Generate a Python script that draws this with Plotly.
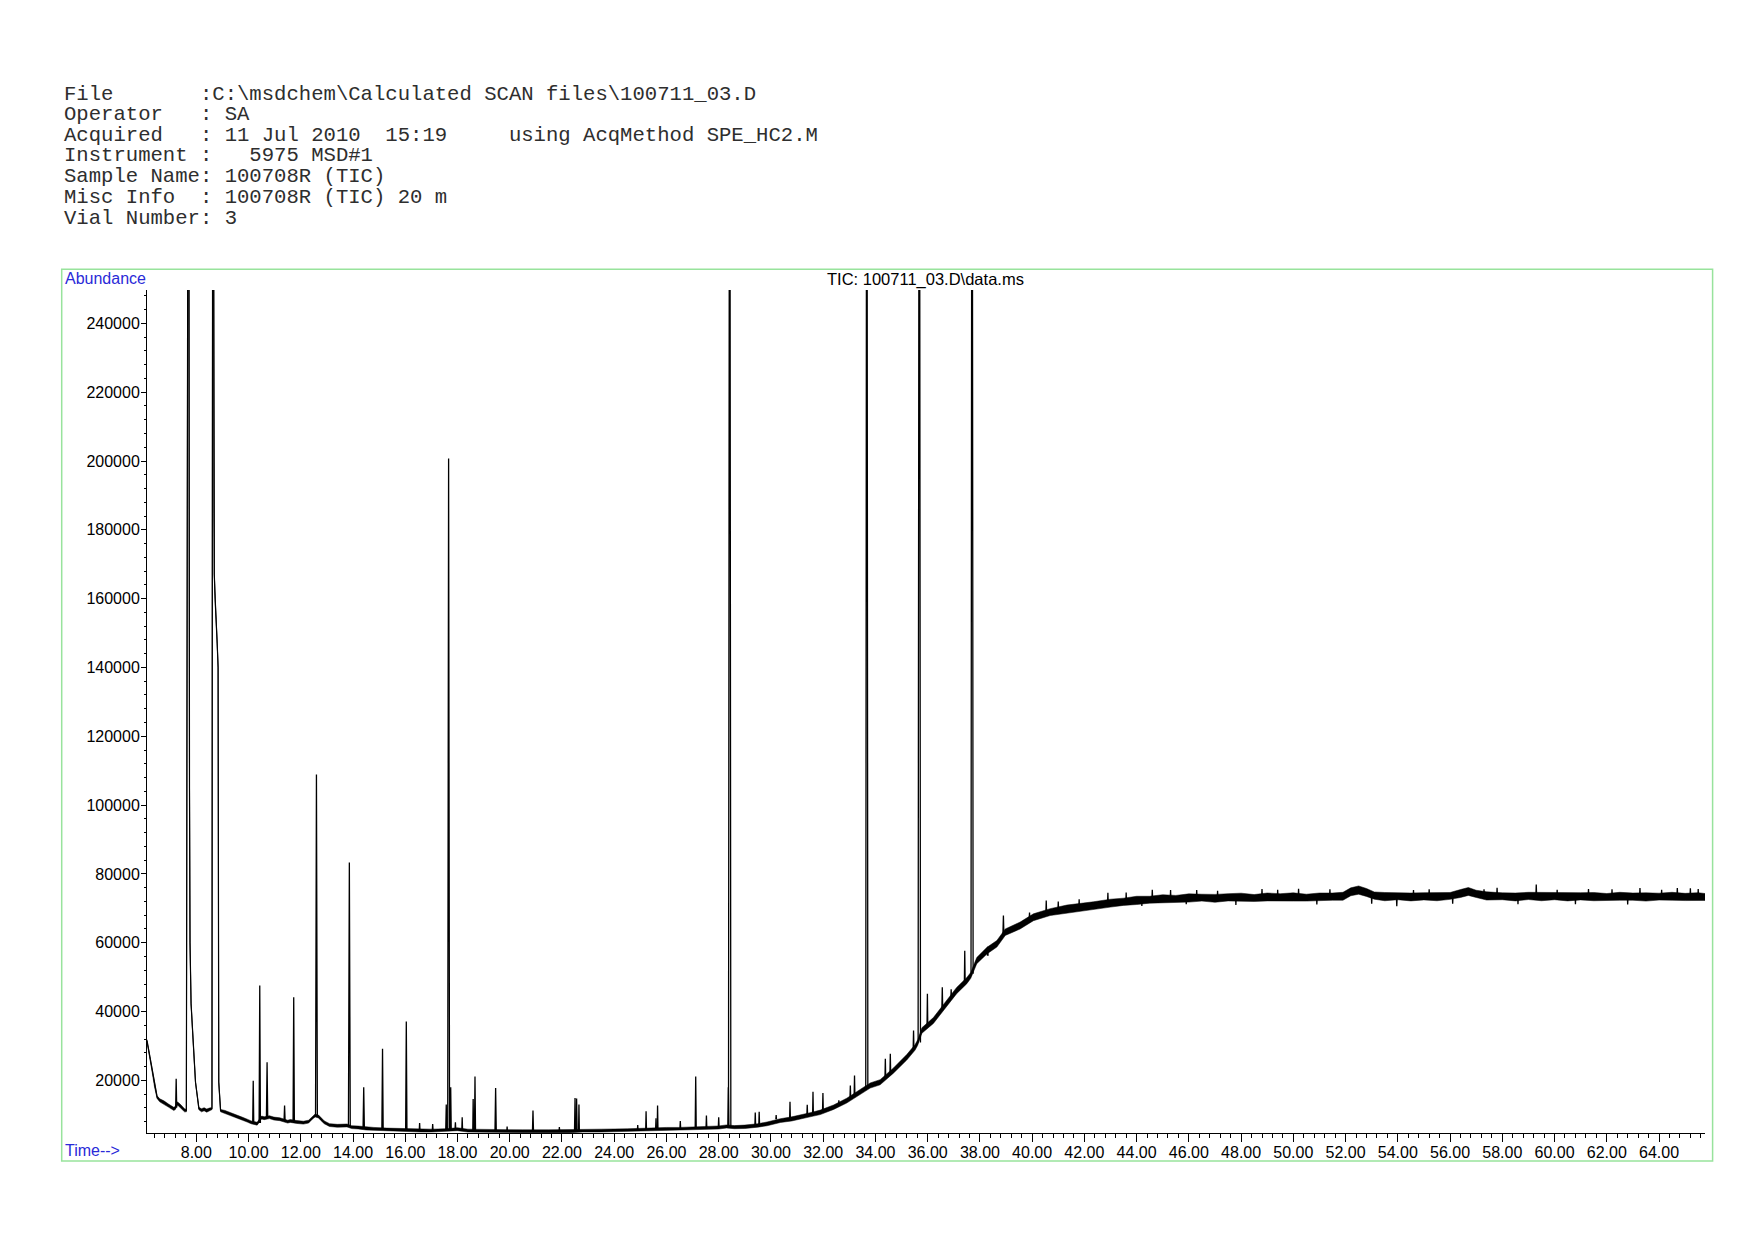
import plotly.graph_objects as go

# ---------------- header text ----------------
header_lines = [
    "File       :C:\\msdchem\\Calculated SCAN files\\100711_03.D",
    "Operator   : SA",
    "Acquired   : 11 Jul 2010  15:19     using AcqMethod SPE_HC2.M",
    "Instrument :   5975 MSD#1",
    "Sample Name: 100708R (TIC)",
    "Misc Info  : 100708R (TIC) 20 m",
    "Vial Number: 3",
]
plot_title = "TIC: 100711_03.D\\data.ms"
y_label = "Abundance"
x_label = "Time-->"

# ---------------- chromatogram baseline (time in min, abundance) ----------------
tic_t = [
    6.11, 6.2, 6.31, 6.4, 6.5, 6.6, 6.76, 6.95, 7.14, 7.2,
    7.28, 7.4, 7.55, 7.62, 7.645, 7.66, 7.70, 7.74, 7.76, 7.80,
    7.87, 7.97, 8.1, 8.2, 8.3, 8.4, 8.5, 8.6, 8.635, 8.67,
    8.69, 8.72, 8.76, 8.80, 8.835, 8.86, 8.93, 9.1, 9.3, 9.56,
    9.75, 9.95, 10.1, 10.33, 10.5, 10.6, 10.8, 10.97, 11.2, 11.5,
    11.6, 11.85, 12.1, 12.3, 12.45, 12.55, 12.68, 12.75, 12.9, 13.1,
    13.4, 13.77, 13.95, 14.2, 14.5, 14.8, 15.3, 15.8, 16.2, 16.6,
    17.0, 17.5, 18.0, 18.4, 19.0, 19.7, 20.5, 21.5, 22.3, 22.8,
    23.5, 24.5, 25.0, 25.5, 26.0, 26.5, 27.0, 27.5, 28.0, 28.3,
    28.6, 29.0, 29.5, 29.85, 30.36, 30.8, 31.12, 31.5, 31.89, 32.4,
    32.9, 33.29, 33.6, 33.8, 34.18, 34.69, 35.2, 35.52, 35.62, 35.78,
    36.22, 36.6, 37.11, 37.5, 37.65, 37.88, 38.27, 38.65, 38.97, 39.54,
    40.05, 40.69, 41.33, 42.35, 43.0, 43.5, 44.0, 44.5, 45.0, 45.5,
    46.0, 46.5, 47.0, 47.5, 48.0, 48.5, 49.0, 49.5, 50.0, 50.5,
    51.0, 51.5, 51.9, 52.2, 52.5, 52.8, 53.1, 53.5, 54.0, 54.5,
    55.0, 55.5, 56.0, 56.4, 56.7, 57.0, 57.4, 58.0, 58.5, 59.0,
    59.5, 60.0, 60.5, 61.0, 61.5, 62.0, 62.5, 63.0, 63.5, 64.0,
    64.5, 65.0, 65.5, 65.76,
]
tic_y = [
    31600, 27500, 22800, 18500, 15100, 14200, 13600, 12600, 11700, 12000,
    13300, 12500, 11300, 11200, 163000, 120000, 400000, 104800, 60000, 42300,
    32500, 19450, 11800, 11300, 11600, 11200, 11500, 11800, 400000, 184800,
    167000, 160000, 155000, 147000, 140000, 19500, 11200, 10800, 10200, 9300,
    8900, 8300, 7800, 7400, 9200, 9000, 9300, 8900, 8700, 8000,
    8200, 7900, 7700, 8000, 9200, 9800, 9500, 8900, 7800, 7000,
    6800, 6900, 6400, 6300, 6000, 5900, 5700, 5600, 5500, 5400,
    5400, 5500, 5800, 5400, 5300, 5200, 5200, 5200, 5200, 5400,
    5400, 5500, 5700, 5900, 5900, 5900, 6000, 6200, 6300, 6600,
    6400, 6500, 6900, 7350, 8300, 8800, 9300, 10000, 10700, 12200,
    14100, 16050, 17500, 18500, 19450, 22850, 26700, 29600, 31000, 34500,
    37400, 41250, 46100, 49000, 50500, 54800, 57700, 59700, 63050, 65000,
    67400, 68900, 69850, 70800, 71500, 71900, 72300, 72500, 72800, 72700,
    73000, 73100, 72900, 73200, 73200, 73000, 73300, 73200, 73300, 73100,
    73300, 73400, 73500, 74800, 75300, 74600, 73700, 73400, 73500, 73300,
    73500, 73400, 73600, 74300, 74900, 74200, 73600, 73500, 73300, 73600,
    73400, 73500, 73300, 73500, 73400, 73300, 73500, 73400, 73300, 73400,
    73500, 73300, 73400, 73300,
]
# half-width of the visible baseline noise band at each baseline point
tic_noise = [
    300, 400, 400, 400, 400, 450, 450, 450, 450, 450,
    450, 450, 450, 350, 0, 0, 0, 0, 0, 0,
    0, 0, 350, 450, 450, 450, 450, 300, 0, 0,
    0, 0, 0, 0, 0, 0, 350, 450, 450, 450,
    420, 420, 420, 420, 420, 420, 420, 420, 420, 420,
    420, 420, 420, 420, 420, 420, 420, 420, 420, 420,
    420, 420, 420, 420, 420, 420, 420, 420, 420, 420,
    420, 420, 420, 420, 420, 420, 420, 420, 420, 420,
    420, 420, 420, 420, 420, 420, 420, 450, 450, 450,
    450, 500, 500, 550, 550, 600, 600, 600, 650, 650,
    700, 700, 700, 750, 750, 750, 800, 800, 800, 800,
    850, 850, 900, 900, 850, 900, 950, 950, 950, 1000,
    1000, 1000, 1100, 1100, 1150, 1050, 1200, 1000, 1150, 1050,
    1200, 1000, 1150, 1050, 1200, 1000, 1150, 1050, 1200, 1000,
    1150, 1050, 1150, 1150, 1200, 1150, 1050, 1200, 1000, 1150,
    1050, 1200, 1000, 1150, 1150, 1050, 1200, 1000, 1150, 1050,
    1200, 1000, 1150, 1050, 1200, 1000, 1150, 1050, 1200, 1000,
    1150, 1050, 1150, 1000,
]

# ---------------- individual peaks and noise spikes ----------------
peak_t = [
    7.23, 10.18, 10.43, 10.71, 11.38, 11.73, 12.6, 13.86, 14.41, 15.13,
    16.04, 16.55, 17.05, 17.57, 17.66, 17.74, 17.92, 18.18, 18.6, 18.67,
    19.46, 20.89, 22.5, 22.56, 22.65, 25.22, 25.6, 25.66, 26.53, 27.12,
    27.53, 28.0, 28.37, 28.42, 29.4, 29.55, 30.73, 31.39, 31.61, 31.99,
    33.04, 33.2, 33.67, 34.38, 34.57, 35.46, 35.68, 35.99, 36.56, 37.42,
    37.70, 38.9, 40.54, 42.9, 44.6, 46.3, 48.8, 50.2, 53.96, 55.2,
    57.8, 59.3, 61.3, 63.27, 64.7, 65.2,
    39.9, 41.0, 41.8, 43.6, 44.2, 45.3, 45.9, 47.1, 47.8, 49.4,
    50.9, 51.4, 53.0, 54.6, 56.1, 57.3, 58.6, 60.1, 60.8, 62.2,
    62.8, 64.1, 65.5, 36.9, 38.3, 32.6, 30.2, 24.9, 21.9, 19.9,
]
peak_top = [
    20500, 19900, 47550, 25260, 12700, 44150, 108900, 83300, 18000, 29150,
    37100, 7600, 7300, 13000, 200700, 18000, 7800, 9300, 14600, 21100,
    17800, 11200, 14900, 14700, 13000, 11000, 9000, 12700, 8200, 21100,
    9770, 9300, 18000, 400000, 10650, 10900, 13750, 12870, 16650, 16350,
    18500, 21400, 400000, 26250, 27700, 34500, 400000, 45150, 47050, 57700,
    400000, 67900, 72300, 74500, 75400, 75300, 75600, 75700, 70600, 75500,
    76000, 76900, 75600, 75900, 75900, 75800,
    68800, 72000, 72600, 74600, 70700, 75300, 71200, 75100, 71000, 75400,
    71100, 75500, 71300, 75300, 71300, 75500, 71200, 75400, 71200, 75500,
    71100, 75400, 75600, 46500, 58800, 14200, 9900, 7000, 6400, 6600,
]
peak_base = [
    12100, 7500, 7600, 9100, 8300, 8100, 9700, 6700, 6200, 5750,
    5500, 5400, 5400, 5600, 5800, 5900, 5700, 5500, 5400, 5400,
    5300, 5200, 5200, 5300, 5300, 5700, 5900, 5900, 5900, 6000,
    6200, 6300, 6400, 6500, 6800, 6900, 8700, 9800, 10100, 11000,
    14700, 15500, 17700, 20500, 21700, 29100, 31000, 35800, 41000, 48600,
    51000, 62000, 68300, 71300, 72500, 73000, 73100, 73200, 73400, 73400,
    73500, 73500, 73400, 73400, 73400, 73300,
    67000, 69500, 70300, 72000, 72400, 72800, 72900, 72900, 73200, 73200,
    73300, 73400, 73600, 73400, 73500, 73800, 73300, 73500, 73400, 73300,
    73400, 73400, 73400, 44000, 56200, 12800, 8700, 5600, 5200, 5200,
]
peak_hw = [
    0.02, 0.02, 0.025, 0.025, 0.02, 0.025, 0.035, 0.035, 0.025, 0.025,
    0.025, 0.015, 0.015, 0.02, 0.035, 0.02, 0.015, 0.015, 0.015, 0.02,
    0.025, 0.02, 0.02, 0.02, 0.015, 0.015, 0.015, 0.015, 0.015, 0.02,
    0.015, 0.015, 0.02, 0.045, 0.015, 0.015, 0.015, 0.015, 0.015, 0.015,
    0.015, 0.015, 0.04, 0.015, 0.015, 0.015, 0.045, 0.015, 0.015, 0.015,
    0.04, 0.02, 0.015, 0.015, 0.015, 0.015, 0.015, 0.015, 0.015, 0.015,
    0.015, 0.015, 0.015, 0.015, 0.015, 0.015,
    0.012, 0.012, 0.012, 0.012, 0.012, 0.012, 0.012, 0.012, 0.012, 0.012,
    0.012, 0.012, 0.012, 0.012, 0.012, 0.012, 0.012, 0.012, 0.012, 0.012,
    0.012, 0.012, 0.012, 0.012, 0.012, 0.012, 0.012, 0.012, 0.012, 0.012,
]

assert len(tic_t) == len(tic_y) == len(tic_noise)
assert len(peak_t) == len(peak_top) == len(peak_base) == len(peak_hw)

# ---------------- geometry ----------------
W, H = 1754, 1240
L, R, T, B = 147, 1705, 290, 1133
PW, PH = R - L, B - T


def px(x):
    return (x - L) / PW


def py(y):
    return (B - y) / PH


x_range = [6.113, 65.76]
y_range = [4700, 249700]

fig = go.Figure()

# noise band
band_x = tic_t + tic_t[::-1]
band_y = [y + n for y, n in zip(tic_y, tic_noise)] + \
         [y - n for y, n in zip(tic_y[::-1], tic_noise[::-1])]
fig.add_trace(go.Scatter(x=band_x, y=band_y, mode="lines", fill="toself",
                         fillcolor="black", line=dict(color="black", width=0.5),
                         hoverinfo="skip", showlegend=False))

# baseline trace
fig.add_trace(go.Scatter(x=tic_t, y=tic_y, mode="lines",
                         line=dict(color="black", width=1.2),
                         showlegend=False))

# peaks
pk_x, pk_y = [], []
for t, top, base, hw in zip(peak_t, peak_top, peak_base, peak_hw):
    pk_x += [t - hw, t, t + hw, None]
    pk_y += [base, top, base, None]
fig.add_trace(go.Scatter(x=pk_x, y=pk_y, mode="lines",
                         line=dict(color="black", width=1.3),
                         showlegend=False))

tick_font = dict(family="Liberation Sans, Arial, sans-serif", size=16, color="black")

fig.update_xaxes(range=x_range, tickmode="linear", tick0=0, dtick=2,
                 tickformat=".2f", ticks="outside", ticklen=8, tickwidth=1,
                 tickcolor="black", showline=True, linecolor="black", linewidth=1,
                 showgrid=False, zeroline=False, tickfont=tick_font,
                 ticklabelstandoff=-3,
                 minor=dict(tick0=0, dtick=0.4, ticks="outside", ticklen=4,
                            tickcolor="black", tickwidth=1, showgrid=False))
fig.update_yaxes(range=y_range, tickmode="linear", tick0=0, dtick=20000,
                 tickformat="d", ticks="outside", ticklen=5, tickwidth=1,
                 tickcolor="black", showline=True, linecolor="black", linewidth=1,
                 showgrid=False, zeroline=False, tickfont=tick_font,
                 ticklabelstandoff=-2,
                 minor=dict(tick0=0, dtick=4000, ticks="outside", ticklen=2,
                            tickcolor="black", tickwidth=1, showgrid=False))

annotations = []
header_y = [94.0, 114.5, 135.3, 155.8, 176.7, 197.0, 218.0]
for line, yc in zip(header_lines, header_y):
    annotations.append(dict(
        text=line.replace(" ", "\u00a0"), xref="paper", yref="paper",
        x=px(62.0), y=py(yc), xanchor="left", yanchor="middle", showarrow=False,
        font=dict(family="Liberation Mono, Courier New, monospace", size=20.6,
                  color="#2e2e2e")))

blue = "#2a2ad8"
annotations.append(dict(text=y_label, xref="paper", yref="paper",
                        x=px(62.5), y=py(278.8), xanchor="left", yanchor="middle",
                        showarrow=False,
                        font=dict(family="Liberation Sans, Arial", size=16, color=blue)))
annotations.append(dict(text=x_label, xref="paper", yref="paper",
                        x=px(62.5), y=py(1150.5), xanchor="left", yanchor="middle",
                        showarrow=False,
                        font=dict(family="Liberation Sans, Arial", size=16, color=blue)))
annotations.append(dict(text=plot_title, xref="paper", yref="paper",
                        x=px(925), y=py(279.6), xanchor="center", yanchor="middle",
                        showarrow=False,
                        font=dict(family="Liberation Sans, Arial", size=16.5, color="black")))

frame = dict(type="rect", xref="paper", yref="paper",
             x0=px(61.7), x1=px(1712.6), y0=py(1161), y1=py(269.3),
             line=dict(color="#98e39c", width=1.5), fillcolor="rgba(0,0,0,0)",
             layer="below")

fig.update_layout(width=W, height=H, margin=dict(l=L, r=W - R, t=T, b=H - B),
                  paper_bgcolor="white", plot_bgcolor="white",
                  annotations=annotations, shapes=[frame], showlegend=False)

fig.write_html("out.html", config={"displayModeBar": False},
               post_script="document.body.style.margin='0px';")
